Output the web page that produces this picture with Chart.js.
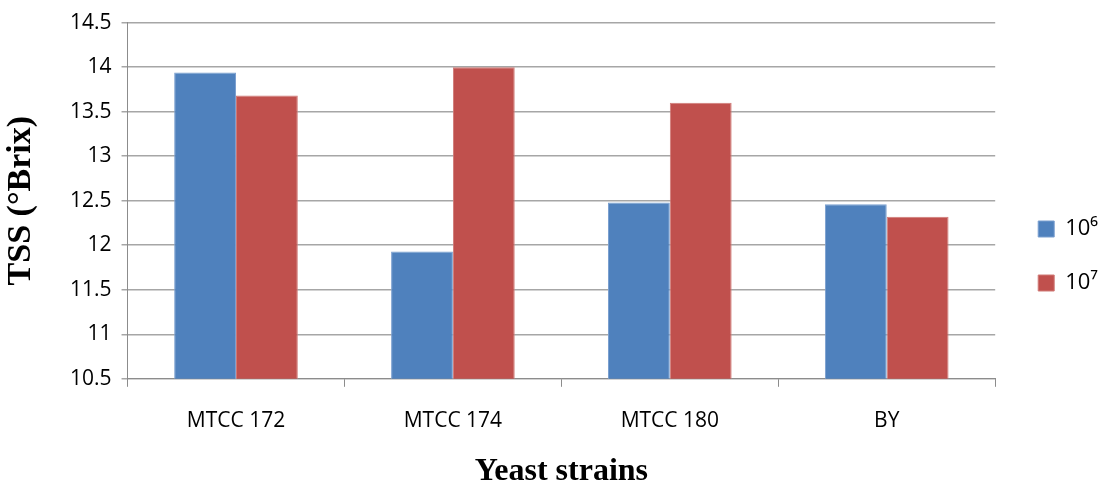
<!DOCTYPE html>
<html>
<head>
<meta charset="utf-8">
<script src="https://cdn.jsdelivr.net/npm/chart.js@4"></script>
<style>
  html, body { margin: 0; padding: 0; background: #fff; }
  #wrap { width: 1102px; height: 491px; }
</style>
</head>
<body>
<div id="wrap"><canvas id="chart"></canvas></div>
<script>
const strains = ["MTCC 172", "MTCC 174", "MTCC 180", "BY"];
const tss1e6 = [13.94, 11.93, 12.48, 12.46];
const tss1e7 = [13.68, 14.0, 13.6, 12.32];
const seriesNames = ["10\u2076", "10\u2077"];

const tickFont = { family: "'Open Sans', 'Noto Sans', sans-serif", size: 21 };
const xTitleFont = { family: "'Liberation Serif', 'Times New Roman', serif", size: 32, weight: "bold", lineHeight: 1.0 };
const yTitleFont = { family: "'Liberation Serif', 'Times New Roman', serif", size: 34, weight: "bold", lineHeight: 1.0 };

// nudge the legend a little to the right, like the original
const legendNudge = {
  id: "legendNudge",
  afterLayout(chart) {
    const lg = chart.legend;
    lg.left += 11;
    lg.right += 11;
    lg.top += 6;
    lg.bottom += 6;
  }
};

const ctx = document.getElementById("chart");
const chart = new Chart(ctx, {
  type: "bar",
  data: {
    labels: strains,
    datasets: [
      {
        label: seriesNames[0],
        data: tss1e6,
        backgroundColor: "#4F81BD",
        borderColor: "#7a9fcf",
        borderWidth: 1
      },
      {
        label: seriesNames[1],
        data: tss1e7,
        backgroundColor: "#C0504D",
        borderColor: "#d07a77",
        borderWidth: 1
      }
    ]
  },
  plugins: [legendNudge],
  options: {
    responsive: true,
    maintainAspectRatio: false,
    animation: false,
    categoryPercentage: 0.57,
    barPercentage: 1.0,
    layout: { padding: { left: 4, right: 5, top: 12, bottom: 3 } },
    plugins: {
      legend: {
        position: "right",
        align: "center",
        labels: {
          boxWidth: 16,
          boxHeight: 16,
          padding: 32,
          color: "#000",
          font: { family: "'Open Sans', 'Noto Sans', sans-serif", size: 22 }
        }
      },
      tooltip: { enabled: false }
    },
    scales: {
      x: {
        grid: {
          drawOnChartArea: false,
          drawTicks: true,
          tickLength: 8,
          color: "#8c8c8c",
          offset: true
        },
        border: { color: "#8c8c8c" },
        ticks: { color: "#000", font: tickFont, padding: 22 },
        title: {
          display: true,
          text: "Yeast strains",
          color: "#000",
          font: xTitleFont,
          padding: { top: 0, bottom: 0 }
        }
      },
      y: {
        min: 10.5,
        max: 14.5,
        grid: {
          color: "#a6a6a6",
          tickLength: 6,
          lineWidth: 1.5
        },
        border: { color: "#8c8c8c" },
        ticks: {
          stepSize: 0.5,
          color: "#000",
          font: tickFont,
          padding: 10,
          callback: v => String(v)
        },
        title: {
          display: true,
          text: "TSS (\u00B0Brix)",
          color: "#000",
          font: yTitleFont,
          padding: { top: 0, bottom: 22 }
        }
      }
    }
  }
});
</script>
</body>
</html>
